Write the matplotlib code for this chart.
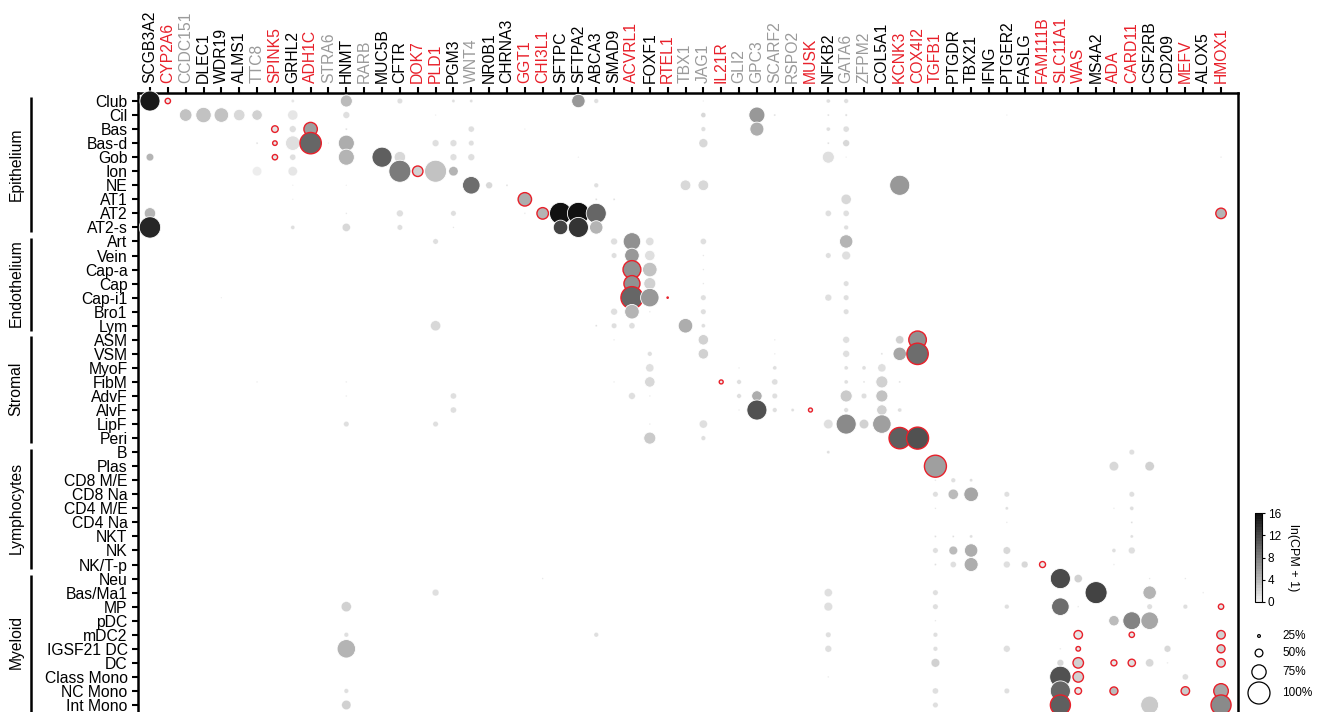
import matplotlib
matplotlib.use('Agg')
import matplotlib.pyplot as plt
import numpy as np
from matplotlib.colors import LinearSegmentedColormap, Normalize
from matplotlib.cm import ScalarMappable
from matplotlib.transforms import blended_transform_factory

plt.rcParams['font.family'] = ['Liberation Sans', 'DejaVu Sans']

# Genes (columns), label colour groups
genes = ['SCGB3A2', 'CYP2A6', 'CCDC151', 'DLEC1', 'WDR19', 'ALMS1', 'TTC8', 'SPINK5',
         'GRHL2', 'ADH1C', 'STRA6', 'HNMT', 'RARB', 'MUC5B', 'CFTR', 'DOK7', 'PLD1',
         'PGM3', 'WNT4', 'NR0B1', 'CHRNA3', 'GGT1', 'CHI3L1', 'SFTPC', 'SFTPA2', 'ABCA3',
         'SMAD9', 'ACVRL1', 'FOXF1', 'RTEL1', 'TBX1', 'JAG1', 'IL21R', 'GLI2', 'GPC3',
         'SCARF2', 'RSPO2', 'MUSK', 'NFKB2', 'GATA6', 'ZFPM2', 'COL5A1', 'KCNK3', 'COX4I2',
         'TGFB1', 'PTGDR', 'TBX21', 'IFNG', 'PTGER2', 'FASLG', 'FAM111B', 'SLC11A1', 'WAS',
         'MS4A2', 'ADA', 'CARD11', 'CSF2RB', 'CD209', 'MEFV', 'ALOX5', 'HMOX1']
disease_genes = ['CYP2A6', 'SPINK5', 'ADH1C', 'DOK7', 'PLD1', 'GGT1', 'CHI3L1', 'ACVRL1',
                 'RTEL1', 'IL21R', 'MUSK', 'KCNK3', 'COX4I2', 'TGFB1', 'FAM111B', 'SLC11A1',
                 'WAS', 'ADA', 'CARD11', 'MEFV', 'HMOX1']
faded_genes = ['CCDC151', 'TTC8', 'STRA6', 'RARB', 'WNT4', 'TBX1', 'JAG1', 'GLI2', 'GPC3',
               'SCARF2', 'RSPO2', 'GATA6', 'ZFPM2']

# Cell types (rows) by lineage
lineages = ['Epithelium', 'Endothelium', 'Stromal', 'Lymphocytes', 'Myeloid']
epithelium_cells = ['Club', 'Cil', 'Bas', 'Bas-d', 'Gob', 'Ion', 'NE', 'AT1', 'AT2', 'AT2-s']
endothelium_cells = ['Art', 'Vein', 'Cap-a', 'Cap', 'Cap-i1', 'Bro1', 'Lym']
stromal_cells = ['ASM', 'VSM', 'MyoF', 'FibM', 'AdvF', 'AlvF', 'LipF', 'Peri']
lymphocyte_cells = ['B', 'Plas', 'CD8 M/E', 'CD8 Na', 'CD4 M/E', 'CD4 Na', 'NKT', 'NK', 'NK/T-p']
myeloid_cells = ['Neu', 'Bas/Ma1', 'MP', 'pDC', 'mDC2', 'IGSF21 DC', 'DC', 'Class Mono',
                 'NC Mono', 'Int Mono']

# (cell type, gene, % cells expressing, ln(CPM+1), red outline)
epithelium_dots = [
    ('Club', 'SCGB3A2', 94, 15.3, 0), ('Club', 'CYP2A6', 39, 0.2, 1), ('Club', 'GRHL2', 27, 0.8, 0),
    ('Club', 'HNMT', 67, 3.6, 0), ('Club', 'CFTR', 39, 1.0, 0), ('Club', 'PGM3', 27, 1.0, 0),
    ('Club', 'WNT4', 27, 1.0, 0), ('Club', 'SFTPA2', 72, 6.1, 0), ('Club', 'ABCA3', 35, 1.0, 0),
    ('Club', 'JAG1', 15, 0.8, 0), ('Club', 'NFKB2', 32, 1.0, 0), ('Club', 'GATA6', 35, 1.2, 0),
    ('Cil', 'CCDC151', 69, 3.2, 0), ('Cil', 'DLEC1', 79, 3.4, 0), ('Cil', 'WDR19', 76, 3.4, 0),
    ('Cil', 'ALMS1', 65, 1.5, 0), ('Cil', 'TTC8', 61, 2.0, 0), ('Cil', 'GRHL2', 59, 0.8, 0),
    ('Cil', 'HNMT', 45, 1.0, 0), ('Cil', 'JAG1', 37, 1.5, 0), ('Cil', 'GPC3', 81, 6.1, 0),
    ('Cil', 'SCARF2', 20, 1.0, 0), ('Cil', 'NFKB2', 20, 1.0, 0), ('Cil', 'GATA6', 22, 1.0, 0),
    ('Cil', 'PLD1', 15, 0.8, 0), ('Cil', 'PTGER2', 15, 0.8, 0),
    ('Bas', 'SPINK5', 45, 0.8, 1), ('Bas', 'GRHL2', 45, 1.2, 0), ('Bas', 'ADH1C', 72, 5.6, 1),
    ('Bas', 'HNMT', 20, 1.0, 0), ('Bas', 'WNT4', 42, 1.2, 0), ('Bas', 'JAG1', 35, 1.2, 0),
    ('Bas', 'GPC3', 74, 4.8, 0), ('Bas', 'NFKB2', 32, 1.0, 0), ('Bas', 'GATA6', 42, 1.3, 0),
    ('Bas', 'GGT1', 15, 0.8, 0),
    ('Bas-d', 'TTC8', 20, 1.0, 0), ('Bas-d', 'SPINK5', 35, 0.5, 1), ('Bas-d', 'GRHL2', 76, 1.1, 0),
    ('Bas-d', 'ADH1C', 98, 9.9, 1), ('Bas-d', 'STRA6', 15, 0.8, 0), ('Bas-d', 'HNMT', 81, 4.9, 0),
    ('Bas-d', 'PLD1', 45, 1.2, 0), ('Bas-d', 'PGM3', 45, 1.2, 0), ('Bas-d', 'WNT4', 39, 1.2, 0),
    ('Bas-d', 'JAG1', 54, 1.6, 0), ('Bas-d', 'NFKB2', 20, 1.0, 0), ('Bas-d', 'GATA6', 45, 1.5, 0),
    ('Gob', 'SCGB3A2', 48, 4.4, 0), ('Gob', 'SPINK5', 39, 0.5, 1), ('Gob', 'GRHL2', 42, 1.2, 0),
    ('Gob', 'HNMT', 81, 4.2, 0), ('Gob', 'MUC5B', 94, 10.1, 0), ('Gob', 'CFTR', 65, 1.6, 0),
    ('Gob', 'PGM3', 45, 1.2, 0), ('Gob', 'WNT4', 45, 1.3, 0), ('Gob', 'NFKB2', 67, 1.2, 0),
    ('Gob', 'GATA6', 15, 0.8, 0), ('Gob', 'SFTPA2', 15, 0.8, 0), ('Gob', 'HMOX1', 17, 0.8, 0),
    ('Ion', 'TTC8', 56, 0.3, 0), ('Ion', 'GRHL2', 56, 0.5, 0), ('Ion', 'CFTR', 100, 8.4, 0),
    ('Ion', 'DOK7', 61, 2.1, 1), ('Ion', 'PLD1', 100, 3.4, 0), ('Ion', 'PGM3', 56, 4.4, 0),
    ('NE', 'GRHL2', 15, 0.8, 0), ('NE', 'HNMT', 15, 0.8, 0), ('NE', 'WNT4', 86, 9.0, 0),
    ('NE', 'NR0B1', 45, 1.6, 0), ('NE', 'CHRNA3', 20, 1.0, 0), ('NE', 'ABCA3', 35, 1.0, 0),
    ('NE', 'TBX1', 62, 1.6, 0), ('NE', 'JAG1', 62, 1.6, 0), ('NE', 'KCNK3', 94, 6.1, 0),
    ('AT1', 'GRHL2', 15, 0.8, 0), ('AT1', 'GGT1', 72, 4.8, 1), ('AT1', 'ABCA3', 20, 1.0, 0),
    ('AT1', 'SMAD9', 20, 1.0, 0), ('AT1', 'GATA6', 59, 1.6, 0),
    ('AT2', 'SCGB3A2', 65, 4.0, 0), ('AT2', 'HNMT', 17, 0.8, 0), ('AT2', 'CFTR', 45, 1.2, 0),
    ('AT2', 'PGM3', 39, 1.2, 0), ('AT2', 'GGT1', 17, 0.8, 0), ('AT2', 'CHI3L1', 65, 4.4, 1),
    ('AT2', 'SFTPC', 100, 16.0, 0), ('AT2', 'SFTPA2', 100, 15.8, 0), ('AT2', 'ABCA3', 94, 9.9, 0),
    ('AT2', 'NFKB2', 42, 1.2, 0), ('AT2', 'GATA6', 42, 1.2, 0), ('AT2', 'HMOX1', 61, 4.0, 1),
    ('AT2-s', 'SCGB3A2', 98, 14.0, 0), ('AT2-s', 'GRHL2', 32, 1.0, 0), ('AT2-s', 'HNMT', 51, 1.5, 0),
    ('AT2-s', 'CFTR', 39, 1.2, 0), ('AT2-s', 'PGM3', 17, 0.8, 0), ('AT2-s', 'SFTPC', 76, 12.1, 0),
    ('AT2-s', 'SFTPA2', 94, 13.2, 0), ('AT2-s', 'ABCA3', 72, 4.2, 0), ('AT2-s', 'GATA6', 35, 1.2, 0),
]

endothelium_dots = [
    ('Art', 'PLD1', 39, 1.2, 0), ('Art', 'SMAD9', 45, 1.2, 0), ('Art', 'ACVRL1', 86, 6.8, 0),
    ('Art', 'FOXF1', 51, 1.3, 0), ('Art', 'JAG1', 42, 1.2, 0), ('Art', 'GATA6', 72, 4.2, 0),
    ('Vein', 'SMAD9', 39, 1.2, 0), ('Vein', 'ACVRL1', 76, 6.1, 0), ('Vein', 'FOXF1', 61, 1.3, 0),
    ('Vein', 'JAG1', 17, 0.8, 0), ('Vein', 'NFKB2', 39, 1.2, 0), ('Vein', 'GATA6', 53, 1.3, 0),
    ('Cap-a', 'ACVRL1', 87, 6.9, 1), ('Cap-a', 'FOXF1', 76, 3.3, 0), ('Cap-a', 'JAG1', 17, 0.8, 0),
    ('Cap', 'ACVRL1', 81, 6.9, 1), ('Cap', 'FOXF1', 67, 2.1, 0), ('Cap', 'JAG1', 17, 0.8, 0),
    ('Cap', 'GATA6', 39, 1.2, 0),
    ('Cap-i1', 'ACVRL1', 100, 9.9, 1), ('Cap-i1', 'FOXF1', 89, 6.0, 0), ('Cap-i1', 'RTEL1', 15, 0.5, 1),
    ('Cap-i1', 'JAG1', 39, 1.2, 0), ('Cap-i1', 'NFKB2', 45, 1.0, 0), ('Cap-i1', 'GATA6', 39, 1.2, 0),
    ('Cap-i1', 'WDR19', 15, 0.8, 0),
    ('Bro1', 'SMAD9', 45, 1.2, 0), ('Bro1', 'ACVRL1', 76, 4.2, 0), ('Bro1', 'FOXF1', 17, 0.8, 0),
    ('Bro1', 'JAG1', 39, 1.2, 0), ('Bro1', 'GATA6', 39, 1.2, 0),
    ('Lym', 'ABCA3', 20, 1.0, 0), ('Lym', 'SMAD9', 39, 1.2, 0), ('Lym', 'ACVRL1', 42, 1.2, 0),
    ('Lym', 'TBX1', 76, 4.7, 0), ('Lym', 'JAG1', 32, 1.0, 0), ('Lym', 'PLD1', 59, 1.6, 0),
]

stromal_dots = [
    ('ASM', 'SMAD9', 17, 0.8, 0), ('ASM', 'JAG1', 61, 2.3, 0), ('ASM', 'SCARF2', 17, 0.8, 0),
    ('ASM', 'GATA6', 45, 1.2, 0), ('ASM', 'KCNK3', 51, 2.0, 0), ('ASM', 'COX4I2', 86, 6.9, 1),
    ('VSM', 'FOXF1', 35, 1.2, 0), ('VSM', 'JAG1', 61, 2.3, 0), ('VSM', 'SCARF2', 17, 0.8, 0),
    ('VSM', 'GATA6', 45, 1.2, 0), ('VSM', 'COL5A1', 20, 1.0, 0), ('VSM', 'KCNK3', 72, 5.2, 0),
    ('VSM', 'COX4I2', 98, 9.3, 1),
    ('MyoF', 'FOXF1', 51, 1.3, 0), ('MyoF', 'GLI2', 17, 0.8, 0), ('MyoF', 'SCARF2', 32, 1.0, 0),
    ('MyoF', 'GATA6', 32, 1.0, 0), ('MyoF', 'ZFPM2', 32, 1.0, 0), ('MyoF', 'COL5A1', 51, 1.3, 0),
    ('FibM', 'TTC8', 17, 0.8, 0), ('FibM', 'HNMT', 17, 0.8, 0), ('FibM', 'SMAD9', 17, 0.8, 0),
    ('FibM', 'FOXF1', 61, 1.6, 0), ('FibM', 'IL21R', 32, 0.3, 1), ('FibM', 'GLI2', 35, 1.0, 0),
    ('FibM', 'SCARF2', 42, 1.2, 0), ('FibM', 'GATA6', 32, 1.0, 0), ('FibM', 'ZFPM2', 20, 1.0, 0),
    ('FibM', 'COL5A1', 67, 2.0, 0), ('FibM', 'KCNK3', 20, 1.0, 0),
    ('AdvF', 'HNMT', 17, 0.8, 0), ('AdvF', 'PGM3', 42, 1.2, 0), ('AdvF', 'ACVRL1', 45, 1.2, 0),
    ('AdvF', 'FOXF1', 17, 0.8, 0), ('AdvF', 'GLI2', 35, 1.0, 0), ('AdvF', 'GPC3', 61, 4.8, 0),
    ('AdvF', 'SCARF2', 39, 1.2, 0), ('AdvF', 'GATA6', 67, 2.5, 0), ('AdvF', 'ZFPM2', 39, 1.2, 0),
    ('AdvF', 'COL5A1', 67, 3.0, 0),
    ('AlvF', 'PGM3', 42, 1.2, 0), ('AlvF', 'GLI2', 17, 0.8, 0), ('AlvF', 'GPC3', 94, 11.2, 0),
    ('AlvF', 'SCARF2', 35, 1.2, 0), ('AlvF', 'RSPO2', 27, 1.0, 0), ('AlvF', 'MUSK', 32, 0.3, 1),
    ('AlvF', 'GATA6', 35, 1.0, 0), ('AlvF', 'COL5A1', 61, 2.0, 0), ('AlvF', 'KCNK3', 32, 1.0, 0),
    ('LipF', 'HNMT', 39, 1.2, 0), ('LipF', 'PLD1', 39, 1.2, 0), ('LipF', 'FOXF1', 17, 0.8, 0),
    ('LipF', 'JAG1', 51, 1.3, 0), ('LipF', 'NFKB2', 56, 1.0, 0), ('LipF', 'GATA6', 94, 7.1, 0),
    ('LipF', 'ZFPM2', 56, 2.3, 0), ('LipF', 'COL5A1', 89, 5.6, 0),
    ('Peri', 'FOXF1', 67, 2.6, 0), ('Peri', 'JAG1', 35, 1.2, 0), ('Peri', 'KCNK3', 98, 10.4, 1),
    ('Peri', 'COX4I2', 100, 11.2, 1),
]

lymphocyte_dots = [
    ('B', 'NFKB2', 27, 1.0, 0), ('B', 'CARD11', 39, 1.2, 0),
    ('Plas', 'TGFB1', 100, 5.6, 1), ('Plas', 'ADA', 56, 1.6, 0), ('Plas', 'CSF2RB', 56, 2.3, 0),
    ('CD8 M/E', 'TGFB1', 17, 0.8, 0), ('CD8 M/E', 'PTGDR', 35, 1.2, 0), ('CD8 M/E', 'TBX21', 27, 1.0, 0),
    ('CD8 Na', 'TGFB1', 39, 1.2, 0), ('CD8 Na', 'PTGDR', 59, 3.6, 0), ('CD8 Na', 'TBX21', 76, 5.2, 0),
    ('CD8 Na', 'PTGER2', 39, 1.2, 0), ('CD8 Na', 'CARD11', 39, 1.2, 0),
    ('CD4 M/E', 'TGFB1', 17, 0.8, 0), ('CD4 M/E', 'PTGER2', 27, 1.0, 0), ('CD4 M/E', 'ADA', 17, 0.8, 0),
    ('CD4 M/E', 'CARD11', 32, 1.0, 0),
    ('CD4 Na', 'PTGER2', 17, 0.8, 0), ('CD4 Na', 'CARD11', 20, 1.0, 0),
    ('NKT', 'TGFB1', 20, 1.0, 0), ('NKT', 'PTGDR', 20, 1.0, 0), ('NKT', 'TBX21', 27, 1.0, 0),
    ('NKT', 'CARD11', 27, 1.0, 0),
    ('NK', 'TGFB1', 39, 1.2, 0), ('NK', 'PTGDR', 53, 3.6, 0), ('NK', 'TBX21', 72, 4.6, 0),
    ('NK', 'PTGER2', 48, 1.6, 0), ('NK', 'ADA', 32, 1.0, 0), ('NK', 'CARD11', 45, 1.2, 0),
    ('NK/T-p', 'TGFB1', 20, 1.0, 0), ('NK/T-p', 'PTGDR', 42, 1.2, 0), ('NK/T-p', 'TBX21', 74, 4.6, 0),
    ('NK/T-p', 'PTGER2', 45, 1.2, 0), ('NK/T-p', 'FASLG', 45, 1.6, 0), ('NK/T-p', 'FAM111B', 42, 0.3, 1),
    ('NK/T-p', 'ADA', 17, 0.8, 0),
]

myeloid_dots = [
    ('Neu', 'CHI3L1', 17, 0.8, 0), ('Neu', 'SLC11A1', 94, 11.7, 0), ('Neu', 'WAS', 51, 2.0, 0),
    ('Neu', 'CSF2RB', 17, 0.8, 0), ('Neu', 'MEFV', 17, 0.8, 0),
    ('Bas/Ma1', 'PLD1', 45, 1.2, 0), ('Bas/Ma1', 'NFKB2', 51, 1.3, 0), ('Bas/Ma1', 'TGFB1', 39, 1.2, 0),
    ('Bas/Ma1', 'MS4A2', 100, 12.4, 0), ('Bas/Ma1', 'CSF2RB', 72, 4.0, 0), ('Bas/Ma1', 'ALOX5', 17, 0.8, 0),
    ('MP', 'HNMT', 59, 2.0, 0), ('MP', 'NFKB2', 53, 1.3, 0), ('MP', 'TGFB1', 39, 1.2, 0),
    ('MP', 'PTGER2', 35, 1.2, 0), ('MP', 'SLC11A1', 86, 9.3, 0), ('MP', 'WAS', 17, 0.8, 0),
    ('MP', 'CSF2RB', 39, 1.2, 0), ('MP', 'MEFV', 35, 1.2, 0), ('MP', 'HMOX1', 39, 0.5, 1),
    ('pDC', 'TGFB1', 17, 0.8, 0), ('pDC', 'ADA', 61, 3.6, 0), ('pDC', 'CARD11', 87, 7.7, 0),
    ('pDC', 'CSF2RB', 86, 5.0, 0),
    ('mDC2', 'HNMT', 35, 1.2, 0), ('mDC2', 'ABCA3', 35, 1.2, 0), ('mDC2', 'NFKB2', 39, 1.2, 0),
    ('mDC2', 'TGFB1', 35, 1.2, 0), ('mDC2', 'WAS', 53, 0.8, 1), ('mDC2', 'CARD11', 39, 0.5, 1),
    ('mDC2', 'HMOX1', 53, 2.0, 1),
    ('IGSF21 DC', 'HNMT', 89, 4.0, 0), ('IGSF21 DC', 'NFKB2', 45, 1.2, 0), ('IGSF21 DC', 'TGFB1', 35, 1.2, 0),
    ('IGSF21 DC', 'PTGER2', 45, 1.2, 0), ('IGSF21 DC', 'SLC11A1', 17, 0.8, 0), ('IGSF21 DC', 'WAS', 35, 0.5, 1),
    ('IGSF21 DC', 'CD209', 45, 1.6, 0), ('IGSF21 DC', 'HMOX1', 51, 2.0, 1),
    ('DC', 'TGFB1', 53, 2.3, 0), ('DC', 'SLC11A1', 45, 1.6, 0), ('DC', 'WAS', 61, 2.0, 1),
    ('DC', 'ADA', 42, 0.5, 1), ('DC', 'CARD11', 48, 1.0, 1), ('DC', 'CSF2RB', 51, 1.6, 0),
    ('DC', 'CD209', 17, 0.8, 0), ('DC', 'HMOX1', 53, 1.6, 1),
    ('Class Mono', 'NFKB2', 17, 0.8, 0), ('Class Mono', 'SLC11A1', 98, 11.0, 0),
    ('Class Mono', 'WAS', 61, 2.0, 1), ('Class Mono', 'MEFV', 42, 1.2, 0),
    ('NC Mono', 'HNMT', 35, 1.2, 0), ('NC Mono', 'TGFB1', 42, 1.2, 0), ('NC Mono', 'PTGER2', 39, 1.2, 0),
    ('NC Mono', 'SLC11A1', 94, 9.6, 0), ('NC Mono', 'WAS', 45, 0.8, 1), ('NC Mono', 'ADA', 51, 3.6, 1),
    ('NC Mono', 'MEFV', 53, 2.6, 1), ('NC Mono', 'HMOX1', 76, 5.0, 1),
    ('Int Mono', 'HNMT', 56, 2.0, 0), ('Int Mono', 'TGFB1', 39, 1.2, 0), ('Int Mono', 'SLC11A1', 94, 10.4, 1),
    ('Int Mono', 'CSF2RB', 87, 2.6, 0), ('Int Mono', 'HMOX1', 94, 7.2, 1),
]

legend_pcts = [25, 50, 75, 100]
cbar_ticks = [0, 4, 8, 12, 16]

# ---------------------------------------------------------------
lineage_cells = [epithelium_cells, endothelium_cells, stromal_cells, lymphocyte_cells, myeloid_cells]
cell_types = sum(lineage_cells, [])
all_dots = epithelium_dots + endothelium_dots + stromal_dots + lymphocyte_dots + myeloid_dots

xs = np.array([genes.index(d[1]) for d in all_dots])
ys = np.array([cell_types.index(d[0]) for d in all_dots])
pct = np.array([d[2] for d in all_dots], dtype=float)
expr = np.array([d[3] for d in all_dots])
flag = np.array([d[4] for d in all_dots])


def dot_size(p):
    return 251 * (np.asarray(p, dtype=float) / 100.0) ** 3


RED = '#e8202a'
cmap = LinearSegmentedColormap.from_list('expr', ['#ededed', '#111111'], N=32)
norm = Normalize(0, 16)

fig = plt.figure(figsize=(13.17, 7.12), dpi=100)
ax = fig.add_axes([138 / 1317, -1 / 712, 1100 / 1317, 620 / 712])

# draw row by row so lower rows sit on top
order = np.argsort(ys, kind='stable')
edgecols = np.array([RED if f else 'white' for f in flag], dtype=object)
lws = np.where(flag == 1, 1.0, np.where(pct >= 60, 0.6, 0.2))
ax.scatter(xs[order], ys[order], s=dot_size(pct[order]), c=expr[order], cmap=cmap, norm=norm,
           edgecolors=list(edgecols[order]), linewidths=lws[order], zorder=3, clip_on=False)

ax.set_xlim(-0.67, len(genes) - 1 + 0.95)
ax.set_ylim(len(cell_types) - 1 + 0.57, -0.57)

ax.xaxis.tick_top()
ax.set_xticks(range(len(genes)))
ax.set_xticklabels(genes, rotation=90, fontsize=11.3)
ax.set_yticks(range(len(cell_types)))
ax.set_yticklabels(cell_types, fontsize=11.3)
ax.tick_params(axis='both', direction='out', length=4, width=1.5)
ax.tick_params(axis='x', pad=3.5)
ax.tick_params(axis='y', pad=3.5)
for lab in ax.get_xticklabels():
    g = lab.get_text()
    lab.set_color(RED if g in disease_genes else ('#9a9a9a' if g in faded_genes else 'black'))
ax.spines['bottom'].set_visible(False)
for side in ['top', 'left', 'right']:
    ax.spines[side].set_linewidth(1.8)

# lineage brackets
trans = blended_transform_factory(fig.transFigure, ax.transData)
start = 0
for name, cells in zip(lineages, lineage_cells):
    y0 = start - 0.25
    y1 = start + len(cells) - 1 + 0.35
    if name == 'Myeloid':
        y1 = start + len(cells) - 1 + 1.0
    ax.plot([31 / 1317, 31 / 1317], [y0, y1], transform=trans, color='black', lw=1.8,
            clip_on=False, solid_capstyle='butt')
    ax.text(16 / 1317, (start + start + len(cells) - 1) / 2, name, transform=trans,
            rotation=90, ha='center', va='center', fontsize=11.3)
    start += len(cells)

# colorbar
cax = fig.add_axes([1255 / 1317, 1 - 602 / 712, 7 / 1317, 89 / 712])
cb = fig.colorbar(ScalarMappable(norm=norm, cmap=cmap), cax=cax, ticks=cbar_ticks)
cb.outline.set_linewidth(0.8)
cax.tick_params(labelsize=8.5, length=2.5, width=0.8, pad=1.5)
cb.set_label('ln(CPM + 1)', rotation=270, fontsize=9, labelpad=13)

# size legend
lax = fig.add_axes([0, 0, 1, 1], facecolor='none')
lax.set_xlim(0, 1317)
lax.set_ylim(712, 0)
lax.axis('off')
leg_y = [636, 653, 672, 693]
lax.scatter([1259] * 4, leg_y, s=dot_size(legend_pcts), facecolors='white', edgecolors='black',
            linewidths=0.9)
for yy, p in zip(leg_y, legend_pcts):
    lax.text(1282, yy, f'{p}%', fontsize=8.5, va='center', ha='left')

fig.savefig('out.png', dpi=100)
